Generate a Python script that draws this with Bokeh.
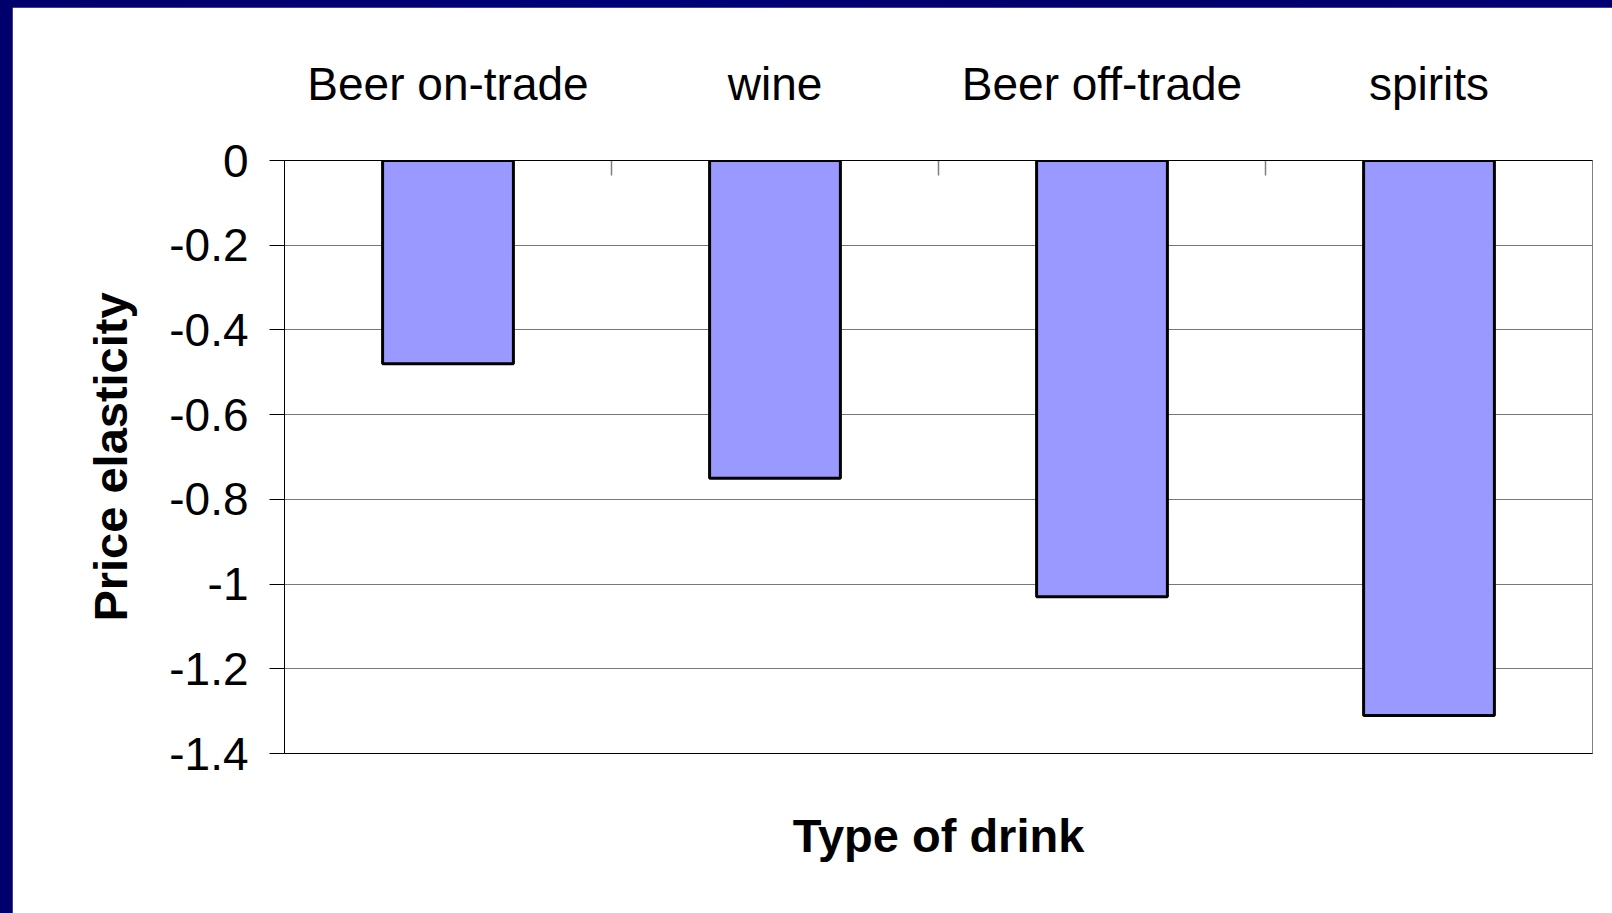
import math

from bokeh.embed import file_html
from bokeh.layouts import column
from bokeh.models import (CategoricalAxis, ColumnDataSource, CustomJSTickFormatter,
                          FactorRange, FixedTicker, Range1d)
from bokeh.plotting import figure
from bokeh.resources import INLINE
from bokeh.transform import dodge

# Price elasticity of demand by type of drink
drinks = ["Beer on-trade", "wine", "Beer off-trade", "spirits"]
elasticity = [-0.48, -0.75, -1.03, -1.31]
y_ticks = [0, -0.2, -0.4, -0.6, -0.8, -1.0, -1.2, -1.4]

FONT = "Liberation Sans"

bars = ColumnDataSource(data=dict(drink=drinks, elasticity=elasticity))
# category boundaries (between neighbouring drinks) get a short tick
bounds = ColumnDataSource(data=dict(drink=drinks[:-1], zero=[0] * (len(drinks) - 1)))

p = figure(
    width=1600, height=906,
    x_range=FactorRange(*drinks, range_padding=0),
    y_range=Range1d(min(y_ticks), max(y_ticks)),
    x_axis_location="above",
    output_backend="svg", toolbar_location=None,
    min_border_left=272, min_border_top=153,
    min_border_right=20, min_border_bottom=160,
    margin=(7, 0, 0, 12),
    background_fill_color="white", border_fill_color="white",
)

p.vbar(x="drink", top=0, bottom="elasticity", width=0.4, source=bars,
       fill_color="#9999FF", line_color="black", line_width=3)

p.scatter(x=dodge("drink", 0.5, range=p.x_range), y="zero", source=bounds,
          marker="dash", size=30, angle=math.pi / 2,
          line_color="#808080", line_width=1.5)

# frame and grid
p.outline_line_color = "#808080"
p.outline_line_width = 1
p.xgrid.grid_line_color = None
p.ygrid.ticker = FixedTicker(ticks=y_ticks)
p.ygrid.grid_line_color = "#777777"
p.ygrid.grid_line_width = 1

# category labels on top
top = p.xaxis[0]
top.major_tick_line_color = None
top.minor_tick_line_color = None
top.axis_line_color = "black"
top.axis_line_width = 1
top.major_label_text_font = FONT
top.major_label_text_font_size = "46px"
top.major_label_text_color = "black"
top.major_label_standoff = 45

# value axis
ya = p.yaxis[0]
ya.ticker = FixedTicker(ticks=y_ticks)
ya.formatter = CustomJSTickFormatter(code="return tick.toFixed(1).replace(/\\.0$/, '');")
ya.major_tick_out = 15
ya.major_tick_in = 0
ya.major_tick_line_color = "black"
ya.minor_tick_line_color = None
ya.axis_line_color = "black"
ya.major_label_text_font = FONT
ya.major_label_text_font_size = "46px"
ya.major_label_text_color = "black"
ya.major_label_standoff = 21
ya.axis_label = "Price elasticity"
ya.axis_label_text_font = FONT
ya.axis_label_text_font_size = "47px"
ya.axis_label_text_font_style = "bold"
ya.axis_label_text_color = "black"
ya.axis_label_standoff = 29

# bottom axis carries only the line and the title
bottom = CategoricalAxis(
    axis_label="Type of drink",
    axis_label_text_font=FONT, axis_label_text_font_size="47px",
    axis_label_text_font_style="bold", axis_label_text_color="black",
    axis_label_standoff=55,
    major_label_text_font_size="0px", major_label_standoff=0,
    major_label_text_color=None,
    major_tick_out=0, major_tick_in=0, major_tick_line_color=None,
    minor_tick_line_color=None,
    axis_line_color="black", axis_line_width=1,
)
p.add_layout(bottom, "below")

page = column(p, styles={
    "background": "linear-gradient(90deg, #00006c, #000078 40%, #00006a 70%, #000074)",
})

open("out.html", "w").write(file_html(page, INLINE))
